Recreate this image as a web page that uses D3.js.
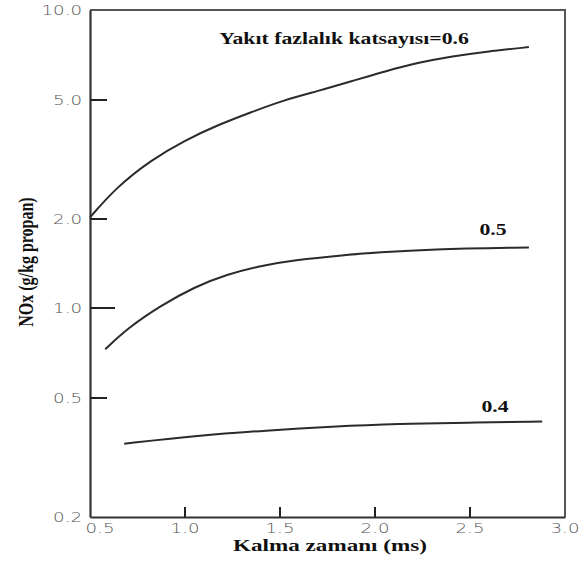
<!DOCTYPE html>
<html>
<head>
<meta charset="utf-8">
<script src="https://cdn.jsdelivr.net/npm/d3@7"></script>
<style>
  body { margin: 0; background: #fff; }
  svg { display: block; }
</style>
</head>
<body>
<div id="chart"></div>
<script>
// DATA (residence time in ms, NOx in g/kg propane)
const xTickValues = [0.5, 1.0, 1.5, 2.0, 2.5, 3.0];
const yTickValues = [0.2, 0.5, 1.0, 2.0, 5.0, 10.0];
const xInnerTicks = [1.0, 1.5, 2.0, 2.5];
const yInnerTicks = [0.5, 1.0, 2.0, 5.0];

const time06 = [0.5, 0.64, 0.82, 1.0, 1.17, 1.35, 1.52, 1.7, 1.88, 2.06, 2.23, 2.41, 2.58, 2.81];
const nox06 = [2.02, 2.55, 3.14, 3.66, 4.11, 4.55, 4.99, 5.35, 5.78, 6.25, 6.67, 7.0, 7.25, 7.51];

const time05 = [0.58, 0.7, 0.87, 1.05, 1.22, 1.4, 1.57, 1.84, 2.02, 2.28, 2.81];
const nox05 = [0.73, 0.86, 1.02, 1.18, 1.3, 1.39, 1.45, 1.51, 1.54, 1.58, 1.60];

const time04 = [0.68, 1.07, 1.43, 1.77, 2.13, 2.48, 2.88];
const nox04 = [0.352, 0.375, 0.39, 0.402, 0.411, 0.414, 0.418];

const curveLabels = ["Yakıt fazlalık katsayısı=0.6", "0.5", "0.4"];
const labelTime = [1.18, 2.55, 2.56];
const labelNox = [7.7, 1.76, 0.451];

const xTitle = "Kalma zamanı (ms)";
const yTitle = "NOx (g/kg propan)";

// DIMENSIONS
const dimension = {
    width: 581,
    height: 562,
    margin: { top: 10, right: 16, bottom: 45, left: 90 },
}
dimension.boundedWidth = dimension.width - dimension.margin.left - dimension.margin.right;
dimension.boundedHeight = dimension.height - dimension.margin.top - dimension.margin.bottom;

// the scanned figure is stretched sideways, so text is too
const stretch = 1.36;
const serif = "'Liberation Serif', 'Times New Roman', serif";
const sans = "'DejaVu Sans', sans-serif";

// SCALES
const xScale = d3.scaleLinear()
    .domain([0.5, 3.0])
    .range([0, dimension.boundedWidth])

const yScale = d3.scaleLog()
    .domain([0.2, 10])
    .range([dimension.boundedHeight, 0])

const wrapper = d3.select("#chart")
    .append("svg")
    .attr("width", dimension.width)
    .attr("height", dimension.height)

const bounds = wrapper.append("g")
    .attr("transform", `translate(${dimension.margin.left},${dimension.margin.top})`)

// FRAME (top and right)
bounds.append("path")
    .attr("d", `M0,0H${dimension.boundedWidth}V${dimension.boundedHeight}`)
    .attr("fill", "none")
    .attr("stroke", "#555")
    .attr("stroke-width", 2)

// AXES (domain lines only, ticks drawn below pointing inwards)
bounds.append("g")
    .call(d3.axisLeft(yScale).tickValues([]).tickSizeOuter(0))
bounds.append("g")
    .attr("transform", `translate(0,${dimension.boundedHeight})`)
    .call(d3.axisBottom(xScale).tickValues([]).tickSizeOuter(0))

bounds.selectAll(".domain")
    .attr("stroke", "#333")
    .attr("stroke-width", 2.2)

bounds.selectAll(".ytick")
    .data(yInnerTicks)
    .enter()
    .append("line")
    .attr("class", "ytick")
    .attr("x1", 0)
    .attr("x2", d => d == 1 ? 25 : 17)
    .attr("y1", d => Math.round(yScale(d)))
    .attr("y2", d => Math.round(yScale(d)))
    .attr("stroke", "#222")
    .attr("stroke-width", 2)
    .attr("shape-rendering", "crispEdges")

bounds.selectAll(".xtick")
    .data(xInnerTicks)
    .enter()
    .append("line")
    .attr("class", "xtick")
    .attr("x1", d => Math.round(xScale(d)))
    .attr("x2", d => Math.round(xScale(d)))
    .attr("y1", dimension.boundedHeight)
    .attr("y2", dimension.boundedHeight - 10)
    .attr("stroke", "#222")
    .attr("stroke-width", 2)
    .attr("shape-rendering", "crispEdges")

// TICK LABELS
bounds.selectAll(".ylab")
    .data(yTickValues)
    .enter()
    .append("text")
    .attr("class", "ylab")
    .attr("transform", d => `translate(-8,${yScale(d) + 5}) scale(1.3,1)`)
    .attr("text-anchor", "end")
    .attr("font-family", sans)
    .attr("font-weight", 200)
    .attr("font-size", 14)
    .attr("fill", "#555")
    .text(d => d.toFixed(1))

bounds.selectAll(".xlab")
    .data(xTickValues)
    .enter()
    .append("text")
    .attr("class", "xlab")
    .attr("transform", (d, i) => `translate(${xScale(d) + (i == 0 ? 10 : 0)},${dimension.boundedHeight + 16}) scale(1.3,1)`)
    .attr("text-anchor", "middle")
    .attr("font-family", sans)
    .attr("font-weight", 200)
    .attr("font-size", 14)
    .attr("fill", "#555")
    .text(d => d.toFixed(1))

// CURVES
const line = d3.line()
    .x(d => xScale(d[0]))
    .y(d => yScale(d[1]))
    .curve(d3.curveBasis)

const series = [
    d3.zip(time06, nox06),
    d3.zip(time05, nox05),
    d3.zip(time04, nox04),
]

bounds.selectAll(".curve")
    .data(series)
    .enter()
    .append("path")
    .attr("class", "curve")
    .attr("d", line)
    .attr("fill", "none")
    .attr("stroke", "#2b2b2b")
    .attr("stroke-width", 2)

// CURVE LABELS
bounds.selectAll(".clab")
    .data(curveLabels)
    .enter()
    .append("text")
    .attr("class", "clab")
    .attr("transform", (d, i) => `translate(${xScale(labelTime[i])},${yScale(labelNox[i])}) scale(${stretch},1)`)
    .attr("font-family", serif)
    .attr("font-weight", "bold")
    .attr("font-size", 16)
    .attr("fill", "#111")
    .text(d => d)

// AXIS TITLES
wrapper.append("text")
    .attr("transform", `translate(330,551) scale(${stretch},1)`)
    .attr("text-anchor", "middle")
    .attr("font-family", serif)
    .attr("font-weight", "bold")
    .attr("font-size", 17)
    .attr("fill", "#111")
    .text(xTitle)

wrapper.append("text")
    .attr("transform", `translate(33,262) scale(${stretch},1) rotate(-90)`)
    .attr("text-anchor", "middle")
    .attr("font-family", serif)
    .attr("font-weight", "bold")
    .attr("font-size", 16)
    .attr("fill", "#111")
    .text(yTitle)
</script>
</body>
</html>
